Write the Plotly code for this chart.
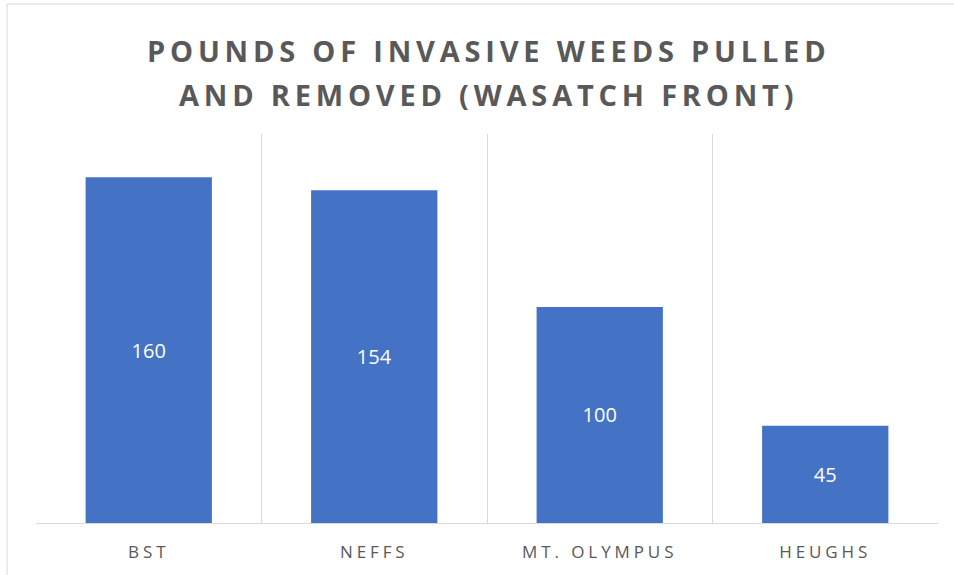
import plotly.graph_objects as go

categories = ["BST", "NEFFS", "MT. OLYMPUS", "HEUGHS"]
pounds = [160, 154, 100, 45]
title_lines = ["POUNDS OF INVASIVE WEEDS PULLED", "AND REMOVED (WASATCH FRONT)"]

W, H = 954, 575
L, R, T, B = 36, 16, 134, 52
plot_w = W - L - R
plot_h = H - T - B

def spaced(s, px):
    return f'<span style="letter-spacing:{px}px">{s}</span>'

def paper_y(py):
    # pixel row (from top of page) -> paper coordinate
    return (H - B - py) / plot_h

def paper_x(px):
    return (px - L) / plot_w

fig = go.Figure(
    go.Bar(
        x=categories,
        y=pounds,
        marker=dict(color="#4472C4", line=dict(width=0)),
        width=0.56,
        text=[str(v) for v in pounds],
        textposition="inside",
        insidetextanchor="middle",
        textfont=dict(color="white", size=20, family="Open Sans"),
        textangle=0,
    )
)

# two-line title drawn as annotations for control over line spacing
title_annotations = [
    dict(
        text=spaced(line, 4.8),
        xref="paper",
        yref="paper",
        x=paper_x(488),
        y=paper_y(py),
        xanchor="center",
        yanchor="middle",
        showarrow=False,
        font=dict(family="Open Sans", size=29, color="#595959", weight="bold"),
    )
    for line, py in zip(title_lines, [50, 94])
]

fig.update_layout(
    width=W,
    height=H,
    margin=dict(l=L, r=R, t=T, b=B),
    paper_bgcolor="white",
    plot_bgcolor="white",
    showlegend=False,
    annotations=title_annotations,
    xaxis=dict(
        type="category",
        tickson="boundaries",
        showgrid=True,
        gridcolor="#d9d9d9",
        gridwidth=1,
        ticks="",
        showline=True,
        linecolor="#d9d9d9",
        linewidth=1,
        ticktext=[spaced(c, 3.9) for c in categories],
        tickvals=categories,
        tickfont=dict(family="Open Sans", size=17, color="#595959"),
        ticklabelstandoff=14,
        range=[-0.5, 3.5],
    ),
    yaxis=dict(
        range=[0, 180],
        showgrid=False,
        showticklabels=False,
        zeroline=False,
        showline=False,
        ticks="",
    ),
    shapes=[
        dict(
            type="rect",
            xref="paper",
            yref="paper",
            x0=paper_x(7),
            x1=paper_x(W + 40),
            y0=-80 / plot_h,
            y1=paper_y(4),
            line=dict(color="#d9d9d9", width=1),
            fillcolor="rgba(0,0,0,0)",
            layer="below",
        )
    ],
)

fig.write_html("out.html")
